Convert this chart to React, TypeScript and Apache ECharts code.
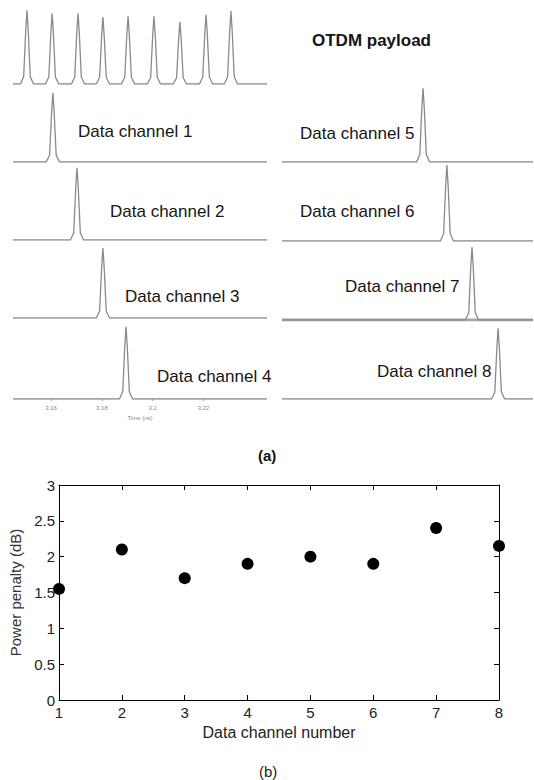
import React, { useEffect, useRef } from "react";
import * as echarts from "echarts";

// ---------- Data ----------
// (a) oscilloscope traces, time in ns
const timeStart = 3.145;
const timeEnd = 3.245;
const timeTicks = [3.16, 3.18, 3.2, 3.22];
const timeTickLabels = ["3.16", "3.18", "3.2", "3.22"];

const otdmTitle = "OTDM payload";
const otdmPeakTimes = [3.1505, 3.1604, 3.1706, 3.1804, 3.1903, 3.2005, 3.2107, 3.221, 3.2308];
const otdmPeakLevels = [0.97, 0.93, 0.93, 0.88, 0.89, 0.89, 0.82, 0.91, 0.96];

const channelNames = [
  "Data channel 1",
  "Data channel 2",
  "Data channel 3",
  "Data channel 4",
  "Data channel 5",
  "Data channel 6",
  "Data channel 7",
  "Data channel 8",
];
const channelPeakTimes = [3.1607, 3.1702, 3.1804, 3.1895, 3.2012, 3.2107, 3.2207, 3.2311];
const channelPeakLevels = [0.91, 0.95, 0.92, 0.95, 0.97, 1.0, 0.96, 0.93];

// shape of one pulse as seen on the scope (offset in ns, relative level)
const pulseOffsets = [-0.0026, -0.0013, -0.0005, 0, 0.0005, 0.0013, 0.0026];
const pulseShape = [0, 0.1, 0.72, 1, 0.72, 0.1, 0];

// (b) power penalty
const channelNumbers = [1, 2, 3, 4, 5, 6, 7, 8];
const penaltyDb = [1.55, 2.1, 1.7, 1.9, 2.0, 1.9, 2.4, 2.15];

// ---------- helpers ----------
function trace(peakTimes: number[], peakLevels: number[]): number[][] {
  const pts: number[][] = [[timeStart, 0]];
  peakTimes.forEach((t, i) => {
    pulseOffsets.forEach((o, k) => {
      pts.push([t + o, pulseShape[k] * peakLevels[i]]);
    });
  });
  pts.push([timeEnd, 0]);
  return pts;
}

const FONT = "Liberation Sans, Arial, Helvetica, sans-serif";

// panel layout: [left, top, width, height]
const panelBoxes: number[][] = [
  [13, 8, 254, 76], // OTDM
  [13, 86, 254, 76], // ch1
  [13, 164, 254, 76], // ch2
  [13, 242, 254, 76], // ch3
  [13, 323, 254, 76], // ch4
  [282, 86, 251, 76], // ch5
  [282, 165, 251, 76], // ch6
  [282, 244, 251, 76], // ch7
  [282, 323, 251, 76], // ch8
];
const labelPos: number[][] = [
  [312, 42],
  [78, 133],
  [110, 213],
  [125, 298],
  [157, 378],
  [300, 135],
  [300, 213],
  [345, 288],
  [377, 373],
];

export default function App() {
  const ref = useRef<HTMLDivElement>(null);
  useEffect(() => {
    if (!ref.current) return;
    const chart = echarts.init(ref.current, undefined, { renderer: "svg" });

    const grids: any[] = [];
    const xAxes: any[] = [];
    const yAxes: any[] = [];
    const series: any[] = [];
    const graphics: any[] = [];

    panelBoxes.forEach((b, i) => {
      grids.push({ left: b[0], top: b[1], width: b[2], height: b[3], containLabel: false });
      const isTimeAxis = i === 4;
      xAxes.push({
        type: "value",
        gridIndex: i,
        min: timeStart,
        max: timeEnd,
        show: true,
        axisLine: { show: false },
        splitLine: { show: false },
        axisTick: isTimeAxis
          ? { show: true, customValues: timeTicks, length: 2, lineStyle: { color: "#aaa" } }
          : { show: false },
        axisLabel: isTimeAxis
          ? {
              show: true,
              customValues: timeTicks,
              formatter: (v: number) => {
                const idx = timeTicks.findIndex((t) => Math.abs(t - v) < 1e-6);
                return idx >= 0 ? timeTickLabels[idx] : "";
              },
              fontSize: 6,
              color: "#888",
              margin: 6,
              fontFamily: FONT,
            }
          : { show: false },
        name: isTimeAxis ? "Time (ns)" : "",
        nameLocation: "middle",
        nameGap: 16,
        nameTextStyle: { fontSize: 6, color: "#888", fontFamily: FONT },
      });
      yAxes.push({
        type: "value",
        gridIndex: i,
        min: 0,
        max: 1,
        show: false,
      });
      const data =
        i === 0
          ? trace(otdmPeakTimes, otdmPeakLevels)
          : trace([channelPeakTimes[i - 1]], [channelPeakLevels[i - 1]]);
      if (i === 7) {
        series.push({
          type: "line",
          xAxisIndex: i,
          yAxisIndex: i,
          data: [
            [timeStart, 0],
            [timeEnd, 0],
          ],
          symbol: "none",
          lineStyle: { color: "#a8a8a8", width: 3 },
          silent: true,
        });
      }
      series.push({
        type: "line",
        xAxisIndex: i,
        yAxisIndex: i,
        data,
        symbol: "none",
        lineStyle: { color: "#8a8a8a", width: 1.3 },
        silent: true,
      });
      const lp = labelPos[i];
      graphics.push({
        type: "text",
        left: lp[0],
        top: lp[1] - 10,
        style: {
          text: i === 0 ? otdmTitle : channelNames[i - 1],
          font: (i === 0 ? "bold " : "") + "17px " + FONT,
          fill: "#151515",
        },
      });
    });

    // (b) scatter plot
    const g = panelBoxes.length;
    grids.push({ left: 59, top: 485, width: 440, height: 215 });
    const axisLineStyle = { color: "#000", width: 1 };
    xAxes.push({
      type: "value",
      gridIndex: g,
      min: 1,
      max: 8,
      interval: 1,
      position: "bottom",
      axisLine: { show: true, onZero: false, lineStyle: axisLineStyle },
      axisTick: { show: true, inside: true, length: 5, lineStyle: axisLineStyle },
      axisLabel: { fontSize: 15, color: "#222", margin: 5, fontFamily: FONT },
      splitLine: { show: false },
      name: "Data channel number",
      nameLocation: "middle",
      nameGap: 24,
      nameTextStyle: { fontSize: 16, color: "#222", fontFamily: FONT },
    });
    xAxes.push({
      type: "value",
      gridIndex: g,
      min: 1,
      max: 8,
      interval: 1,
      position: "top",
      axisLine: { show: true, onZero: false, lineStyle: axisLineStyle },
      axisTick: { show: true, inside: true, length: 5, lineStyle: axisLineStyle },
      axisLabel: { show: false },
      splitLine: { show: false },
    });
    yAxes.push({
      type: "value",
      gridIndex: g,
      min: 0,
      max: 3,
      interval: 0.5,
      position: "left",
      axisLine: { show: true, onZero: false, lineStyle: axisLineStyle },
      axisTick: { show: true, inside: true, length: 5, lineStyle: axisLineStyle },
      axisLabel: { fontSize: 15, color: "#222", margin: 4, fontFamily: FONT },
      splitLine: { show: false },
      name: "Power penalty (dB)",
      nameLocation: "middle",
      nameRotate: 90,
      nameGap: 31,
      nameTextStyle: { fontSize: 15, color: "#333", fontFamily: FONT },
    });
    yAxes.push({
      type: "value",
      gridIndex: g,
      min: 0,
      max: 3,
      interval: 0.5,
      position: "right",
      axisLine: { show: true, onZero: false, lineStyle: axisLineStyle },
      axisTick: { show: true, inside: true, length: 5, lineStyle: axisLineStyle },
      axisLabel: { show: false },
      splitLine: { show: false },
    });
    series.push({
      type: "scatter",
      xAxisIndex: g,
      yAxisIndex: g,
      data: channelNumbers.map((c, i) => [c, penaltyDb[i]]),
      symbol: "circle",
      symbolSize: 12,
      itemStyle: { color: "#000", opacity: 1 },
      clip: false,
      silent: true,
    });

    graphics.push({
      type: "text",
      left: 258,
      top: 448,
      style: { text: "(a)", font: "bold 15px " + FONT, fill: "#111" },
    });
    graphics.push({
      type: "text",
      left: 259,
      top: 764,
      style: { text: "(b)", font: "15px " + FONT, fill: "#222" },
    });

    chart.setOption({
      animation: false,
      backgroundColor: "#fff",
      grid: grids,
      xAxis: xAxes,
      yAxis: yAxes,
      series,
      graphic: graphics,
    });
    return () => chart.dispose();
  }, []);
  return (
    <div
      ref={ref}
      style={{ position: "absolute", left: 0, top: 0, width: 534, height: 780 }}
    />
  );
}
